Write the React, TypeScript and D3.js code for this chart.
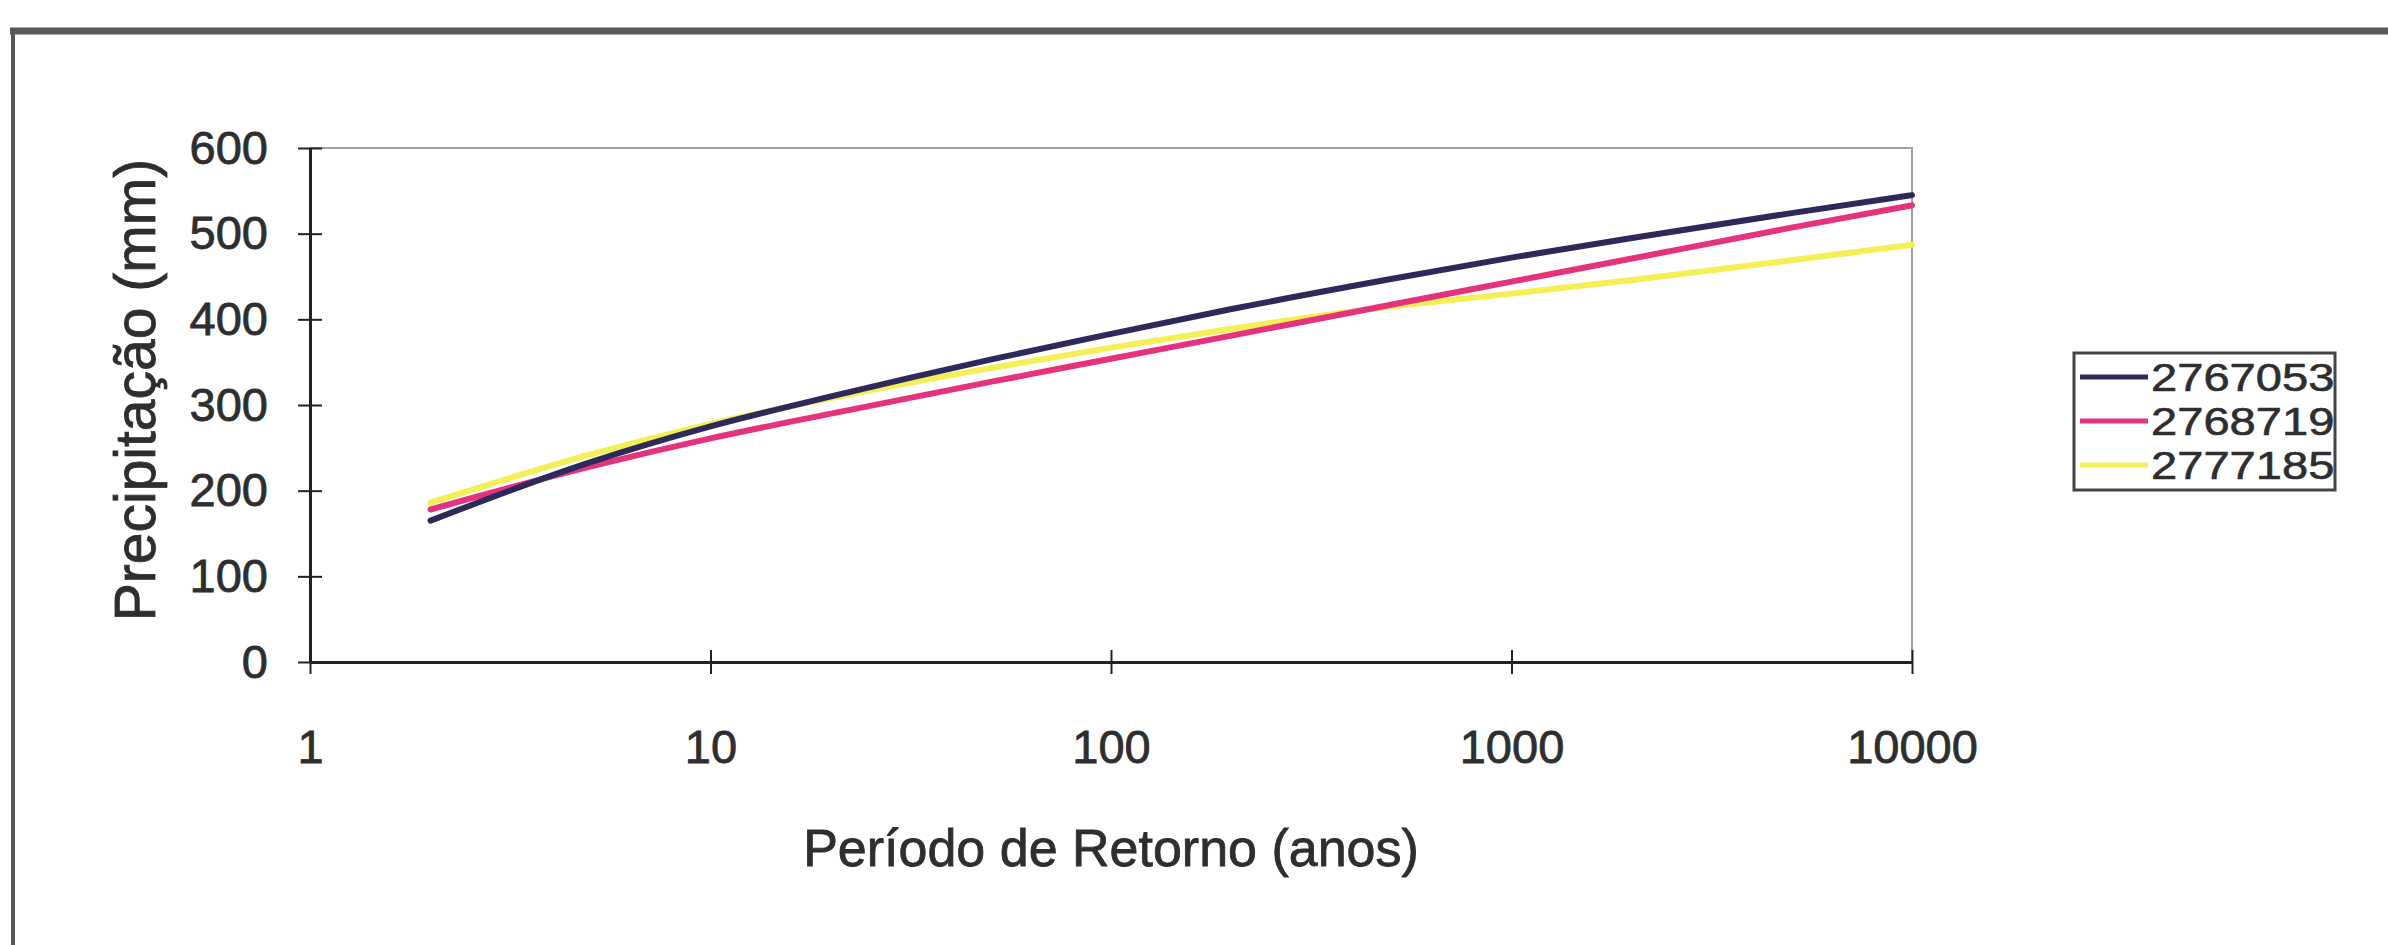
import * as d3 from 'd3';
import { useRef, useEffect } from 'react';

// return periods (anos) and precipitation (mm)
const periods = [2, 5, 10, 20, 50, 100, 200, 500, 1000, 2000, 5000, 10000];
const station2767053 = [165, 233, 275, 310, 353, 383, 412, 447, 472, 495, 524, 545];
const station2768719 = [178, 228, 261, 290, 327, 354, 381, 417, 444, 471, 507, 533];
const station2777185 = [186, 242, 278, 308, 343, 367, 389, 415, 430, 446, 469, 487];

const seriesNames = ['2767053', '2768719', '2777185'];
const seriesColors = ['#2d2a5a', '#e4337c', '#f3ef55'];
const xTicks = [1, 10, 100, 1000, 10000];
const yTicks = [0, 100, 200, 300, 400, 500, 600];

const FONT = "'Liberation Sans', Arial, sans-serif";
const INK = '#2e2e2e';

const App = () => {
    const svgRef = useRef<SVGSVGElement | null>(null);

    useEffect(() => {
        const W = 2388;
        const H = 945;
        const margin = { top: 148, right: 2388 - 1912, bottom: 945 - 662, left: 310 };
        const width = W - margin.left - margin.right;
        const height = H - margin.top - margin.bottom;

        d3.select(svgRef.current).selectAll('*').remove();

        const root = d3.select(svgRef.current)
            .attr('width', W)
            .attr('height', H);

        root.append('rect').attr('width', W).attr('height', H).attr('fill', '#fff');

        // scanned frame: heavy top rule and left rule
        root.append('line')
            .attr('x1', 10).attr('x2', W).attr('y1', 31).attr('y2', 31)
            .attr('stroke', '#5a5a5a').attr('stroke-width', 7);
        root.append('line')
            .attr('x1', 13).attr('x2', 13).attr('y1', 28).attr('y2', H)
            .attr('stroke', '#555').attr('stroke-width', 4);

        const svg = root.append('g')
            .attr('transform', `translate(${margin.left},${margin.top})`);

        const xScale = d3.scaleLog().domain([1, 10000]).range([0, width]);
        const yScale = d3.scaleLinear().domain([0, 600]).range([height, 0]);

        // plot area border
        svg.append('rect')
            .attr('width', width).attr('height', height)
            .attr('fill', 'none').attr('stroke', '#a0a0a0').attr('stroke-width', 2);

        // Y axis
        const yAxis = svg.append('g')
            .call(d3.axisLeft(yScale).tickValues(yTicks).tickFormat(d3.format('d'))
                .tickSizeInner(12).tickSizeOuter(0).tickPadding(30));
        yAxis.select('.domain').attr('stroke', '#222').attr('stroke-width', 3);
        yAxis.selectAll('.tick line').attr('x1', 12).attr('stroke', '#222').attr('stroke-width', 2);
        yAxis.selectAll('.tick text')
            .attr('font-family', FONT).attr('font-size', 47)
            .attr('fill', INK).attr('stroke', INK).attr('stroke-width', 0.8);

        // X axis
        const xAxis = svg.append('g')
            .attr('transform', `translate(0,${height})`)
            .call(d3.axisBottom(xScale).tickValues(xTicks).tickFormat(d3.format('d'))
                .tickSizeInner(12).tickSizeOuter(0).tickPadding(56));
        xAxis.select('.domain').attr('stroke', '#222').attr('stroke-width', 3);
        xAxis.selectAll('.tick line').attr('y1', -12).attr('stroke', '#222').attr('stroke-width', 2);
        xAxis.selectAll('.tick text')
            .attr('font-family', FONT).attr('font-size', 47)
            .attr('fill', INK).attr('stroke', INK).attr('stroke-width', 0.8);

        // series lines
        const allSeries = [station2767053, station2768719, station2777185];
        const line = d3.line<number>()
            .x((_, i) => xScale(periods[i]))
            .y(d => yScale(d))
            .curve(d3.curveMonotoneX);

        // yellow first, then pink, navy on top
        [2, 1, 0].forEach(k => {
            svg.append('path')
                .datum(allSeries[k])
                .attr('fill', 'none')
                .attr('stroke', seriesColors[k])
                .attr('stroke-width', 6)
                .attr('stroke-linejoin', 'round')
                .attr('stroke-linecap', 'round')
                .attr('d', line);
        });

        // axis titles
        root.append('text')
            .attr('x', margin.left + width / 2)
            .attr('y', 866)
            .attr('text-anchor', 'middle')
            .attr('font-family', FONT).attr('font-size', 52)
            .attr('fill', INK).attr('stroke', INK).attr('stroke-width', 0.8)
            .text('Período de Retorno (anos)');

        root.append('text')
            .attr('transform', `translate(135,390) rotate(-90)`)
            .attr('text-anchor', 'middle')
            .attr('dominant-baseline', 'central')
            .attr('font-family', FONT).attr('font-size', 57)
            .attr('fill', INK).attr('stroke', INK).attr('stroke-width', 0.8)
            .text('Precipitação (mm)');

        // legend
        const legend = root.append('g');
        legend.append('rect')
            .attr('x', 2074).attr('y', 353).attr('width', 261).attr('height', 137)
            .attr('fill', '#fff').attr('stroke', '#444').attr('stroke-width', 3);

        const rowY = d3.scalePoint().domain(seriesNames).range([377, 465]);
        seriesNames.forEach((name, k) => {
            const y = rowY(name)!;
            legend.append('line')
                .attr('x1', 2080).attr('x2', 2148).attr('y1', y).attr('y2', y)
                .attr('stroke', seriesColors[k]).attr('stroke-width', 5);
            // the scanned legend digits are wide for their height
            legend.append('text')
                .attr('transform', `translate(2151,${y + 1}) scale(1.24,1)`)
                .attr('dominant-baseline', 'central')
                .attr('font-family', FONT).attr('font-size', 38)
                .attr('fill', INK).attr('stroke', INK).attr('stroke-width', 0.6)
                .text(name);
        });
    }, []);

    return (
        <svg ref={svgRef} style={{ position: 'absolute', left: 0, top: 0, display: 'block' }}></svg>
    );
};

export default App;
